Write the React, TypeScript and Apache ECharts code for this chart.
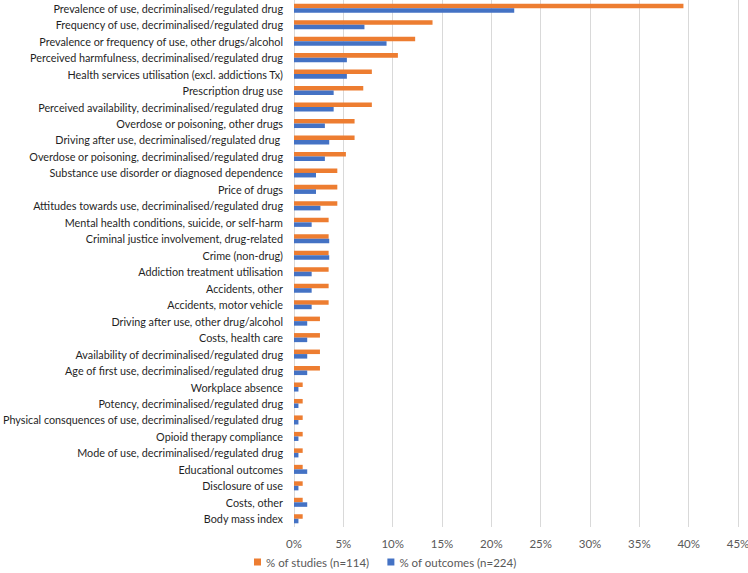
import React, { useEffect, useRef } from "react";
import * as echarts from "echarts";

const categories = [
  "Prevalence of use, decriminalised/regulated drug",
  "Frequency of use, decriminalised/regulated drug",
  "Prevalence or frequency of use, other drugs/alcohol",
  "Perceived harmfulness, decriminalised/regulated drug",
  "Health services utilisation (excl. addictions Tx)",
  "Prescription drug use",
  "Perceived availability, decriminalised/regulated drug",
  "Overdose or poisoning, other drugs",
  "Driving after use, decriminalised/regulated drug ",
  "Overdose or poisoning, decriminalised/regulated drug",
  "Substance use disorder or diagnosed dependence",
  "Price of drugs",
  "Attitudes towards use, decriminalised/regulated drug",
  "Mental health conditions, suicide, or self-harm",
  "Criminal justice involvement, drug-related",
  "Crime (non-drug)",
  "Addiction treatment utilisation",
  "Accidents, other",
  "Accidents, motor vehicle",
  "Driving after use, other drug/alcohol",
  "Costs, health care",
  "Availability of decriminalised/regulated drug",
  "Age of first use, decriminalised/regulated drug",
  "Workplace absence",
  "Potency, decriminalised/regulated drug",
  "Physical consquences of use, decriminalised/regulated drug",
  "Opioid therapy compliance",
  "Mode of use, decriminalised/regulated drug",
  "Educational outcomes",
  "Disclosure of use",
  "Costs, other",
  "Body mass index",
];

// % of studies (n=114)
const studiesPct = [
  39.47, 14.04, 12.28, 10.53, 7.89, 7.02, 7.89, 6.14, 6.14, 5.26, 4.39, 4.39,
  4.39, 3.51, 3.51, 3.51, 3.51, 3.51, 3.51, 2.63, 2.63, 2.63, 2.63, 0.88, 0.88,
  0.88, 0.88, 0.88, 0.88, 0.88, 0.88, 0.88,
];

// % of outcomes (n=224)
const outcomesPct = [
  22.32, 7.14, 9.38, 5.36, 5.36, 4.02, 4.02, 3.13, 3.57, 3.13, 2.23, 2.23, 2.68,
  1.79, 3.57, 3.57, 1.79, 1.79, 1.79, 1.34, 1.34, 1.34, 1.34, 0.45, 0.45, 0.45,
  0.45, 0.45, 1.34, 0.45, 1.34, 0.45,
];

const seriesNames = ["% of studies (n=114)", "% of outcomes (n=224)"];

export default function App() {
  const ref = useRef<HTMLDivElement>(null);
  useEffect(() => {
    if (!ref.current) return;
    const chart = echarts.init(ref.current, null, { renderer: "svg" });
    const font = "Lato";
    chart.setOption({
      animation: false,
      grid: {
        left: 294,
        right: 10,
        top: 0,
        bottom: 46,
        containLabel: false,
        outerBoundsMode: "none",
      },
      legend: {
        data: seriesNames,
        bottom: 0,
        left: 249,
        icon: "rect",
        itemWidth: 7,
        itemHeight: 7,
        itemGap: 18,
        itemStyle: { borderWidth: 0 },
        textStyle: { fontFamily: font, fontSize: 11.5, color: "#595959" },
      },
      xAxis: {
        type: "value",
        min: 0,
        max: 45,
        interval: 5,
        axisLine: { show: false },
        axisTick: { show: false },
        axisLabel: {
          formatter: "{value}%",
          fontFamily: font,
          fontSize: 11.5,
          color: "#595959",
          margin: 10,
        },
        splitLine: { lineStyle: { color: "#d9d9d9", width: 1 } },
      },
      yAxis: {
        type: "category",
        inverse: true,
        data: categories,
        axisLine: { show: false },
        axisTick: { show: false },
        axisLabel: {
          fontFamily: font,
          fontSize: 10.8,
          color: "#1f1f1f",
          margin: 11,
        },
      },
      series: [
        {
          name: seriesNames[0],
          type: "bar",
          data: studiesPct,
          itemStyle: { color: "#ED7D31" },
          barGap: "0%",
          barCategoryGap: "45%",
        },
        {
          name: seriesNames[1],
          type: "bar",
          data: outcomesPct,
          itemStyle: { color: "#4472C4" },
          barGap: "0%",
          barCategoryGap: "45%",
        },
      ],
    });
    return () => chart.dispose();
  }, []);
  return (
    <div
      ref={ref}
      style={{ position: "absolute", left: 0, top: 0, width: 748, height: 573 }}
    />
  );
}
